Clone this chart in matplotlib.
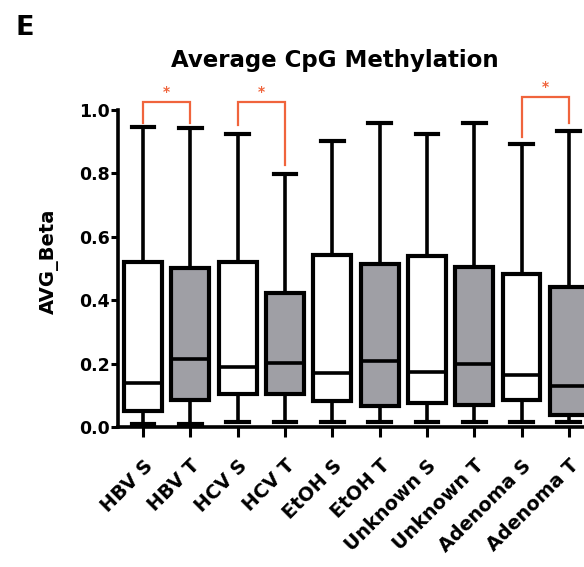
import matplotlib
matplotlib.use("Agg")
import matplotlib.pyplot as plt
from matplotlib.transforms import ScaledTranslation

plt.rcParams['font.family'] = ['DejaVu Sans']
plt.rcParams['font.weight'] = 'bold'

groups = ["HBV S", "HBV T", "HCV S", "HCV T", "EtOH S", "EtOH T",
          "Unknown S", "Unknown T", "Adenoma S", "Adenoma T"]
whisker_low = [0.008, 0.008, 0.017, 0.017, 0.017, 0.015, 0.015, 0.015, 0.015, 0.015]
q1 = [0.051, 0.084, 0.105, 0.105, 0.081, 0.065, 0.074, 0.070, 0.084, 0.039]
medians = [0.139, 0.214, 0.189, 0.202, 0.170, 0.209, 0.173, 0.200, 0.165, 0.130]
q3 = [0.519, 0.503, 0.522, 0.422, 0.543, 0.514, 0.538, 0.506, 0.482, 0.440]
whisker_high = [0.945, 0.942, 0.923, 0.797, 0.902, 0.958, 0.923, 0.958, 0.892, 0.934]
fills = ["white", "#9f9fa5"] * 5

# significance brackets: (left index, right index, top, left leg end, right leg end)
brackets = [(0, 1, 1.026, 0.96, 0.96),
            (2, 3, 1.026, 0.953, 0.827),
            (8, 9, 1.04, 0.916, 0.96)]
sig_color = "#f0643c"

fig = plt.figure(figsize=(5.84, 5.67), dpi=100)
ax = fig.add_axes([0.202, 0.247, 0.815, 0.559])

stats = []
for i, g in enumerate(groups):
    stats.append(dict(label=g, whislo=whisker_low[i], q1=q1[i], med=medians[i],
                      q3=q3[i], whishi=whisker_high[i], fliers=[]))

bp = ax.bxp(stats, positions=range(len(groups)), widths=0.8, patch_artist=True,
            showfliers=False, capwidths=0.48,
            boxprops=dict(linewidth=3.0, edgecolor="black"),
            medianprops=dict(linewidth=2.6, color="black"),
            whiskerprops=dict(linewidth=2.6, color="black"),
            capprops=dict(linewidth=3.0, color="black"))
for patch, c in zip(bp['boxes'], fills):
    patch.set_facecolor(c)
for art in bp['caps'] + bp['whiskers']:
    art.set_clip_on(False)

for l, r, top, yl, yr in brackets:
    ax.plot([l, l, r, r], [yl, top, top, yr], color=sig_color, lw=1.6,
            clip_on=False, solid_joinstyle='miter')
    ax.text((l + r) / 2, top + 0.01, "*", color=sig_color, ha="center",
            va="bottom", fontsize=10, fontweight="bold", clip_on=False)

ax.set_xlim(-0.53, 9.53)
ax.set_ylim(0, 1.0)
ax.set_yticks([0.0, 0.2, 0.4, 0.6, 0.8, 1.0])
ax.set_yticklabels(["0.0", "0.2", "0.4", "0.6", "0.8", "1.0"], fontsize=12.5, fontweight="bold")
ax.set_xticks(range(len(groups)))
ax.set_xticklabels(groups, rotation=45, ha="right", rotation_mode="anchor",
                   fontsize=13.8, fontweight="bold")
shift = ScaledTranslation(-4 / 100, 0, fig.dpi_scale_trans)
for lab in ax.get_xticklabels():
    lab.set_transform(lab.get_transform() + shift)
ax.tick_params(axis="y", width=2.2, length=5, pad=1)
ax.tick_params(axis="x", width=2.2, length=7, pad=14)
for side in ["top", "right"]:
    ax.spines[side].set_visible(False)
for side in ["left", "bottom"]:
    ax.spines[side].set_linewidth(2.6)

ax.set_ylabel("AVG_Beta", fontsize=14, fontweight="bold")
ax.yaxis.set_label_coords(-0.125, 0.524)

fig.text(335 / 584, 1 - 67 / 567, "Average CpG Methylation", ha="center", va="baseline",
         fontsize=16.5, fontweight="bold")
fig.text(15 / 584, 1 - 35 / 567, "E", ha="left", va="baseline", fontsize=19.5, fontweight="bold")

fig.savefig("out.png", dpi=100)
